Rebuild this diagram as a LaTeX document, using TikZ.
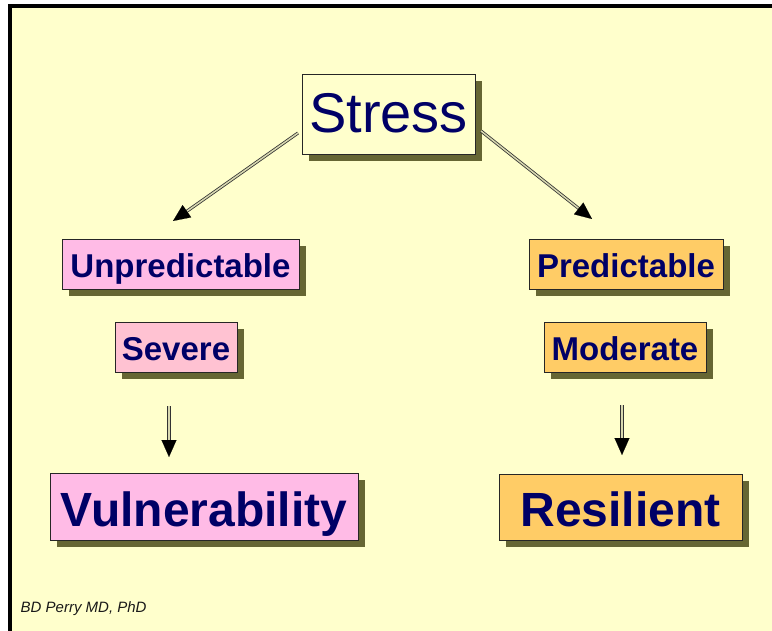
\documentclass[tikz,border=0pt]{standalone}
\usepackage{fontspec}
\setmainfont{Liberation Sans}
\usetikzlibrary{arrows.meta,shadows,calc}
\definecolor{bgc}{HTML}{FFFFCC}
\definecolor{pinkc}{HTML}{FFBBE6}
\definecolor{pinkb}{HTML}{FFC2D2}
\definecolor{orangec}{HTML}{FFCC66}
\definecolor{navyc}{HTML}{000066}
\definecolor{shadc}{HTML}{666633}
\definecolor{innerc}{HTML}{D8D8B0}
\tikzset{
  box/.style={draw=black!85, line width=0.8pt, inner sep=0pt, text=navyc,
    drop shadow={shadow xshift=7pt, shadow yshift=-7pt, fill=shadc, opacity=1},
    text depth=0pt},
  smallbox/.style={box, font=\bfseries\fontsize{33}{36}\selectfont, minimum height=50pt, text height=27pt},
  bigbox/.style={box, font=\bfseries\fontsize{48}{52}\selectfont, minimum height=66pt, text height=39.5pt},
  dline/.style={draw=black!80, line width=0.8pt, double=innerc, double distance=1.5pt},
  tip/.style={line width=0.1pt, -{Triangle[length=17pt,width=15pt]}}
}
\begin{document}
\begin{tikzpicture}[x=1pt,y=-1pt]
\useasboundingbox (0,0) rectangle (772,631);
\fill[white] (0,0) rectangle (772,631);
\fill[bgc] (12,8) rectangle (772,631);
\fill[black] (8,4) rectangle (772,8);
\fill[black] (8,4) rectangle (12,631);

\node[box, fill=bgc, minimum width=173pt, minimum height=80pt,
  font=\fontsize{56}{60}\selectfont, text height=38pt] (stress) at (388.5,114) {Stress};

\node[smallbox, fill=pinkc, minimum width=237pt] (unpred) at (180.5,264) {Unpredictable};
\node[smallbox, fill=pinkb, minimum width=122pt] (severe) at (176,347) {Severe};
\node[smallbox, fill=orangec, minimum width=194pt] (pred) at (626,264) {Predictable};
\node[smallbox, fill=orangec, minimum width=162pt] (moder) at (625,347) {Moderate};
\node[bigbox, fill=pinkc, minimum width=308pt, minimum height=67pt] (vuln) at (204,506.5) {Vulnerability};
\node[bigbox, fill=orangec, minimum width=243pt] (resil) at (620.5,507) {Resilient};

\coordinate (ls) at (298,133);
\coordinate (le) at (173,221);
\coordinate (rs) at (481,131);
\coordinate (re) at (592,219);
\coordinate (dls) at (169,406);
\coordinate (dle) at (169,457);
\coordinate (drs) at (622,405);
\coordinate (dre) at (622,455);

\foreach \a/\b in {ls/le, rs/re, dls/dle, drs/dre}{
  \draw[dline, shorten >=12pt] (\a) -- (\b);
  \draw[tip] ($(\a)!0.9!(\b)$) -- (\b);
}

\node[anchor=base west, font=\itshape\fontsize{15}{17}\selectfont, text=black!90, inner sep=0pt] (credit) at (20.5,612) {BD Perry MD, PhD};
\end{tikzpicture}
\end{document}
